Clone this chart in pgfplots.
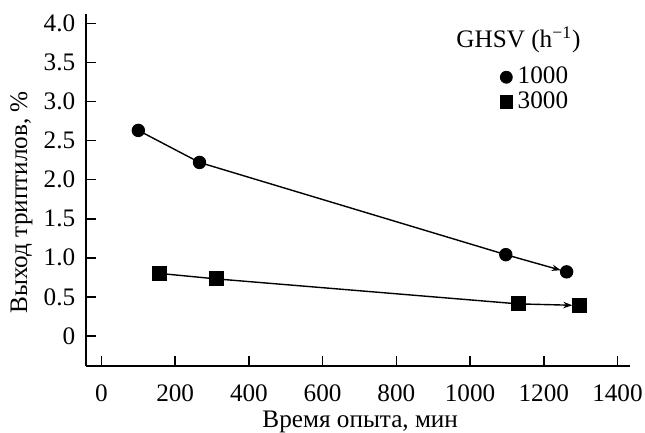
\documentclass[border=0pt]{standalone}
\usepackage{fontspec}
\setmainfont{Liberation Serif}
\usepackage{pgfplots}
\pgfplotsset{compat=1.18}
\usetikzlibrary{arrows.meta,calc}

\begin{document}
\fontsize{12.6}{15}\selectfont
\begin{tikzpicture}
\begin{axis}[
  name=ax,
  scale only axis, width=272pt, height=176pt,
  xmin=-42, xmax=1434, ymin=-0.385, ymax=4.12,
  axis lines=left, axis line style={-, line width=0.8pt},
  tick style={line width=0.8pt, black}, major tick length=5pt,
  tick align=inside,
  xtick={0,200,...,1400}, ytick={0,0.5,...,4.0},
  yticklabels={0,0.5,1.0,1.5,2.0,2.5,3.0,3.5,4.0},
  /pgf/number format/assume math mode=true,
  /pgf/number format/set thousands separator={},
  xticklabel style={yshift=-5pt},
  yticklabel style={xshift=-1pt},
  xlabel={Время опыта, мин}, ylabel={Выход триптилов, \%},
  every axis x label/.style={at={(axis cs:702,-1.17)}, anchor=base},
  every axis y label/.style={at={(axis cs:-217,1.71)}, rotate=90, anchor=center},
  clip=false,
  legend style={draw=none, fill=none, at={(axis cs:1080,3.46)}, anchor=north west,
    inner sep=0pt, row sep=1pt, nodes={inner sep=0.5pt}, column sep=2pt},
  legend cell align=left,
]
\addplot[black, line width=0.7pt, mark=*, mark size=3pt,
  -{Stealth[length=4.5pt,width=3.2pt]}, shorten >=3pt, forget plot]
  coordinates {(100,2.63) (266,2.22) (1097,1.04) (1262,0.82)};
\addplot[black, line width=0.7pt, mark=square*, mark size=3.4pt,
  -{Stealth[length=4.5pt,width=3.2pt]}, shorten >=3.4pt, forget plot]
  coordinates {(157,0.80) (311,0.73) (1131,0.41) (1296,0.39)};
\addlegendimage{black, legend image code/.code={\draw[black, mark=*, mark size=3pt] plot coordinates {(0pt,0pt)};}}
\addlegendentry{1000}
\addlegendimage{black, legend image code/.code={\draw[black, mark=square*, mark size=3.2pt] plot coordinates {(0pt,0pt)};}}
\addlegendentry{3000}
\node[anchor=base west, inner sep=0pt] at (axis cs:962,3.69) {GHSV (h\textsuperscript{−1})};
\end{axis}
\pgfresetboundingbox
\path ($(ax.south west)+(-43pt,-33pt)$) rectangle ($(ax.north east)+(7.5pt,7pt)$);
\end{tikzpicture}
\end{document}
